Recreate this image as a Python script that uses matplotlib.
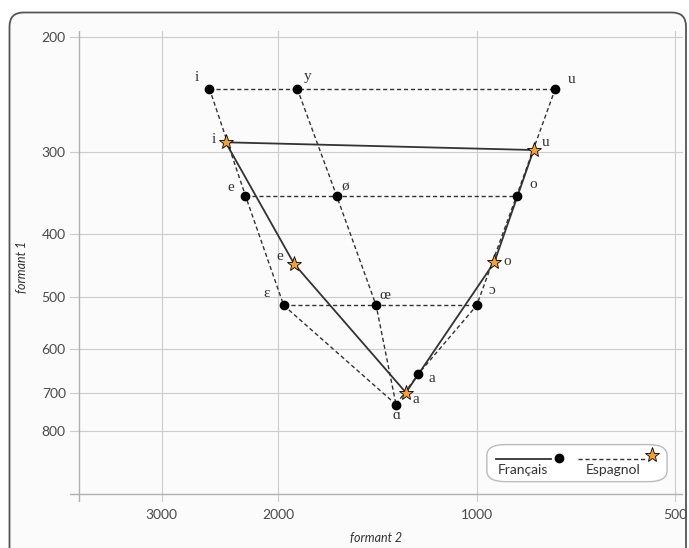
import numpy as np
import matplotlib.pyplot as plt
from matplotlib.patches import FancyBboxPatch
from matplotlib.transforms import IdentityTransform
from matplotlib.lines import Line2D

# French vowels (dots, dashed lines)
fr_vowels = ['i', 'y', 'u', 'e', 'ø', 'o', 'ɛ', 'œ', 'ɔ', 'a', 'ɑ']
fr_f2 = [2540, 1870, 760, 2240, 1630, 870, 1960, 1420, 1000, 1225, 1325]
fr_f1 = [240, 240, 240, 350, 350, 350, 515, 515, 515, 655, 730]

# Spanish vowels (stars, solid line)
es_vowels = ['i', 'e', 'a', 'o', 'u']
es_f2 = [2400, 1890, 1280, 940, 820]
es_f1 = [290, 445, 700, 442, 298]

fr_paths = [['i', 'y', 'u'], ['e', 'ø', 'o'], ['ɛ', 'œ', 'ɔ'],
            ['i', 'e', 'ɛ', 'ɑ'], ['y', 'ø', 'œ', 'ɑ'], ['u', 'o', 'ɔ', 'a', 'ɑ']]
es_path = ['i', 'e', 'a', 'o', 'u', 'i']

x_ticks = [3000, 2000, 1000, 500]
y_ticks = [200, 300, 400, 500, 600, 700, 800]

# label offsets in pixels
fr_off = {'i': (-13, 11), 'y': (10, 12), 'u': (16, 9), 'e': (-15, 8), 'ø': (9, 9),
          'o': (17, 11), 'ɛ': (-17, 12), 'œ': (9, 10), 'ɔ': (15, 15), 'a': (13, -5),
          'ɑ': (0, -11)}
es_off = {'i': (-12, 3), 'e': (-14, 7), 'a': (10, -7), 'o': (13, 0), 'u': (12, 8)}

serif = ['Liberation Serif', 'DejaVu Serif']
sans = 'Lato'
star_col = '#f4a22d'
line_col = '#333333'

fig = plt.figure(figsize=(6.89, 5.48), dpi=100)
fig.patch.set_facecolor('white')
frame = FancyBboxPatch((9.5, -30), 676.5, 565.5, boxstyle='round,pad=0,rounding_size=14',
                       transform=IdentityTransform(), facecolor='#fbfbfb',
                       edgecolor='#555555', lw=1.3, zorder=-10)
fig.add_artist(frame)

ax = fig.add_axes([0.1016, 0.0839, 0.8897, 0.8595])
ax.set_facecolor('none')
ax.set_xscale('log')
ax.set_yscale('log')
ax.set_xlim(4130, 487)
ax.set_ylim(1029, 196)
ax.set_xticks(x_ticks, [str(t) for t in x_ticks])
ax.set_yticks(y_ticks, [str(t) for t in y_ticks])
ax.minorticks_off()
ax.grid(True, color='#cccccc', lw=0.8)
ax.set_axisbelow(True)
for s in ax.spines.values():
    s.set_visible(False)
ax.axvline(4000, color='#b0b0b0', lw=1, zorder=1)
ax.axhline(1000, color='#b0b0b0', lw=1, zorder=1)
ax.tick_params(axis='both', length=0, labelsize=10, labelcolor='#4a4a4a')
ax.tick_params(axis='x', pad=5)
ax.tick_params(axis='y', pad=3)
for lab in ax.get_xticklabels() + ax.get_yticklabels():
    lab.set_family(sans)

ax.set_xlabel('formant 2', family=sans, style='italic', fontsize=9, color='#333333', labelpad=8)
ax.set_ylabel('formant 1', family=sans, style='italic', fontsize=9, color='#333333', labelpad=10)

fr = {v: (x, y) for v, x, y in zip(fr_vowels, fr_f2, fr_f1)}
es = {v: (x, y) for v, x, y in zip(es_vowels, es_f2, es_f1)}

for p in fr_paths:
    ax.plot([fr[v][0] for v in p], [fr[v][1] for v in p], color=line_col, lw=1,
            ls=(0, (3, 2)), zorder=2)
ax.plot([es[v][0] for v in es_path], [es[v][1] for v in es_path], color=line_col,
        lw=1.3, zorder=3)

ax.plot(fr_f2, fr_f1, 'o', color='black', ms=6, zorder=4)
ax.plot(es_f2, es_f1, '*', color=star_col, mec='black', mew=0.6, ms=11, zorder=5)

for v, x, y in zip(fr_vowels, fr_f2, fr_f1):
    ax.annotate(v, (x, y), xytext=fr_off[v], textcoords='offset pixels', ha='center',
                va='center', family=serif, fontsize=11, color='#333333')
for v, x, y in zip(es_vowels, es_f2, es_f1):
    ax.annotate(v, (x, y), xytext=es_off[v], textcoords='offset pixels', ha='center',
                va='center', family=serif, fontsize=11, color='#333333')

# legend drawn by hand (line above label, marker at end)
box = FancyBboxPatch((0.680, 0.0433), 0.294, 0.0786, boxstyle='round,pad=0,rounding_size=0.03',
                     transform=ax.transAxes, facecolor='white', edgecolor='#bbbbbb', lw=1,
                     mutation_aspect=471 / 613, zorder=6)
ax.add_patch(box)
ax.add_line(Line2D([0.6957, 0.7854], [0.0913, 0.0913], transform=ax.transAxes,
                   color=line_col, lw=1.3, zorder=7))
ax.add_line(Line2D([0.7976], [0.0935], transform=ax.transAxes, marker='o', color='black',
                   ms=6, zorder=7))
ax.add_line(Line2D([0.8284, 0.9379], [0.0913, 0.0913], transform=ax.transAxes,
                   color=line_col, lw=1, ls=(0, (3, 2)), zorder=7))
ax.add_line(Line2D([0.949], [0.0998], transform=ax.transAxes, marker='*', color=star_col,
                   mec='black', mew=0.6, ms=11, zorder=7))
ax.text(0.7387, 0.068, 'Français', transform=ax.transAxes, ha='center', va='center',
        family=sans, fontsize=10, color='#333333', zorder=7)
ax.text(0.8858, 0.068, 'Espagnol', transform=ax.transAxes, ha='center', va='center',
        family=sans, fontsize=10, color='#333333', zorder=7)

fig.savefig('out.png', dpi=100)
